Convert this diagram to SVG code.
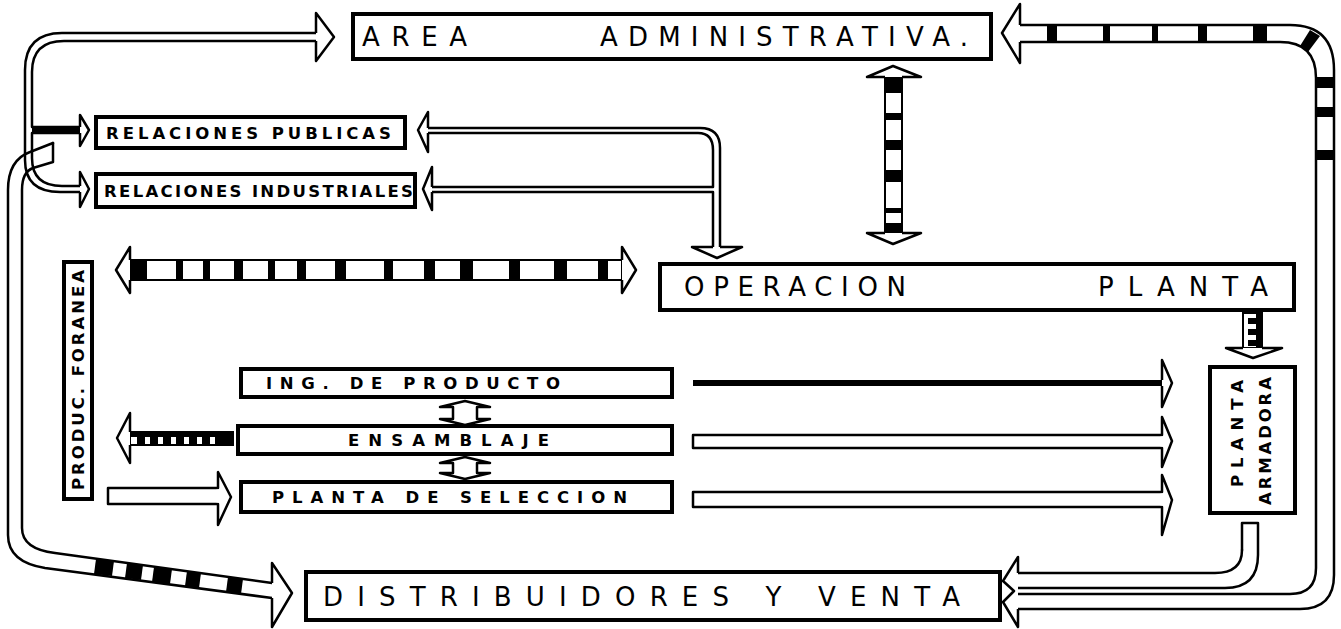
<svg xmlns="http://www.w3.org/2000/svg" width="1341" height="629" viewBox="0 0 1341 629">
<style>
.box{fill:#fff;stroke:#000;stroke-width:4}
.ln{fill:none;stroke:#000;stroke-width:2.5;stroke-linecap:round;stroke-linejoin:round}
.hd{fill:#fff;stroke:#000;stroke-width:2.5;stroke-linejoin:round}
.blk{fill:#000}
.t1{font-family:"DejaVu Sans","Liberation Sans",sans-serif;font-size:26px;fill:#000}
.t2{font-family:"DejaVu Sans","Liberation Sans",sans-serif;font-size:16.5px;font-weight:bold;fill:#000}
</style>
<rect width="1341" height="629" fill="#fff"/>
<g id="connectors">
  <!-- top-left loop to AREA + RELACIONES branches -->
  <path class="ln" d="M316 33 L62 33 Q25 33 25 70 L25 160 Q25 192 60 192 L80 192"/>
  <path class="ln" d="M316 41 L64 41 Q32 41 32 72 L32 127 L80 127"/>
  <path class="ln" d="M80 133 L32 133 L32 158 Q32 186 62 186 L80 186"/>
  <rect x="32" y="127" width="48" height="6" fill="#000"/>
  <path class="hd" d="M316 33 L316 13 L334 37 L316 61 L316 41"/>
  <path class="hd" d="M80 127 L80 115 L89 130 L80 146 L80 133"/>
  <path class="hd" d="M80 186 L80 172 L89 189 L80 207 L80 192"/>
  <!-- big left loop to DISTRIBUIDORES -->
  <path class="ln" d="M53 143 L30 152 Q8 160 8 190 L8 535 Q8 562 45 568 L272 598"/>
  <path class="ln" d="M53 143 L53 162 L33 168 Q22 172 22 190 L22 528 Q22 549 55 553 L272 583"/>
  <g class="blk">
    <polygon points="96,559 114,561 112,576 94,574"/>
    <polygon points="127,563 143,565 141,580 125,578"/>
    <polygon points="154,567 172,569 170,584 152,582"/>
    <polygon points="187,571 201,573 199,588 185,586"/>
    <polygon points="228,577 243,579 241,594 226,592"/>
  </g>
  <path class="hd" d="M272 583 L272 563 L292 593 L272 627 L272 598"/>
  <!-- vertical striped double arrow -->
  <rect x="885" y="77" width="17" height="156" fill="#fff" stroke="#000" stroke-width="2"/>
  <g class="blk">
    <rect x="885" y="77" width="17" height="16"/>
    <rect x="885" y="113" width="17" height="7"/>
    <rect x="885" y="140" width="17" height="10"/>
    <rect x="885" y="170" width="17" height="12"/>
    <rect x="885" y="208" width="17" height="5"/>
    <rect x="885" y="223" width="17" height="10"/>
  </g>
  <path class="hd" d="M885 77 L867 77 L893 66 L921 77 L902 77"/>
  <path class="hd" d="M885 233 L867 233 L893 244 L921 233 L902 233"/>
  <!-- horizontal striped double arrow -->
  <rect x="130" y="260" width="492" height="20" fill="#fff" stroke="#000" stroke-width="2"/>
  <g class="blk">
    <rect x="130" y="260" width="17" height="20"/>
    <rect x="176" y="260" width="7" height="20"/>
    <rect x="203" y="260" width="7" height="20"/>
    <rect x="234" y="260" width="9" height="20"/>
    <rect x="268" y="260" width="7" height="20"/>
    <rect x="297" y="260" width="9" height="20"/>
    <rect x="335" y="260" width="11" height="20"/>
    <rect x="384" y="260" width="9" height="20"/>
    <rect x="424" y="260" width="11" height="20"/>
    <rect x="460" y="260" width="13" height="20"/>
    <rect x="509" y="260" width="11" height="20"/>
    <rect x="554" y="260" width="13" height="20"/>
    <rect x="598" y="260" width="10" height="20"/>
  </g>
  <path class="hd" d="M130 260 L130 247 L116 270 L130 293 L130 280"/>
  <path class="hd" d="M622 260 L622 247 L636 270 L622 293 L622 280"/>
  <!-- RELACIONES <- OPERACION connector -->
  <path class="ln" d="M428 128 L700 128 Q720 128 720 148 L720 247"/>
  <path class="ln" d="M428 133 L698 133 Q713 133 713 150 L713 187 M432 187 L713 187 M432 192 L713 192 L713 247"/>
  <path class="hd" d="M428 128 L428 112 L418 130 L428 152 L428 133"/>
  <path class="hd" d="M432 187 L432 167 L423 189 L432 210 L432 192"/>
  <path class="hd" d="M713 247 L692 247 L717 258 L742 247 L720 247"/>
  <!-- OPERACION -> PLANTA ARMADORA -->
  <rect x="1243" y="313" width="19" height="35" fill="#fff" stroke="#000" stroke-width="2"/>
  <g class="blk">
    <rect x="1256" y="313" width="6" height="35"/>
    <rect x="1248" y="318" width="10" height="6"/>
    <rect x="1248" y="329" width="10" height="6"/>
    <rect x="1248" y="340" width="10" height="6"/>
  </g>
  <path class="hd" d="M1243 348 L1226 348 L1253 358 L1282 348 L1262 348"/>
  <!-- ING <-> ENSAMBLAJE <-> PLANTA DE SELECCION -->
  <path class="hd" d="M465 401 L490 407 L477 407 L477 419 L490 419 L465 425 L440 419 L453 419 L453 407 L440 407 Z"/>
  <path class="hd" d="M465 457 L490 463 L477 463 L477 473 L490 473 L465 479 L440 473 L453 473 L453 463 L440 463 Z"/>
  <!-- ENSAMBLAJE -> PRODUC -->
  <rect x="130" y="432" width="103" height="13" fill="#fff" stroke="#000" stroke-width="2"/>
  <g class="blk">
    <rect x="130" y="432" width="103" height="5"/>
    <rect x="137" y="437" width="8" height="8"/>
    <rect x="150" y="437" width="8" height="8"/>
    <rect x="163" y="437" width="8" height="8"/>
    <rect x="176" y="437" width="8" height="8"/>
    <rect x="189" y="437" width="8" height="8"/>
    <rect x="202" y="437" width="8" height="8"/>
    <rect x="215" y="437" width="18" height="8"/>
  </g>
  <path class="hd" d="M130 432 L130 413 L117 438 L130 463 L130 445"/>
  <!-- PRODUC -> PLANTA DE SELECCION -->
  <path class="hd" d="M218 488 L108 488 L108 504 L218 504 L218 525 L231 497 L218 472 Z"/>
  <line x1="218" y1="489.5" x2="218" y2="502.5" stroke="#fff" stroke-width="3"/>
  <!-- arrows to PLANTA ARMADORA -->
  <rect x="693" y="380" width="469" height="6" fill="#000"/>
  <path class="hd" d="M1162 380 L1162 360 L1172 383 L1162 407 L1162 386"/>
  <path class="hd" d="M1162 435 L693 435 L693 448 L1162 448 L1162 467 L1172 441 L1162 417 Z"/>
  <line x1="1162" y1="436.5" x2="1162" y2="446.5" stroke="#fff" stroke-width="3"/>
  <path class="hd" d="M1162 492 L693 492 L693 507 L1162 507 L1162 535 L1172 500 L1162 475 Z"/>
  <line x1="1162" y1="493.5" x2="1162" y2="505.5" stroke="#fff" stroke-width="3"/>
  <!-- right loop: DISTRIBUIDORES -> AREA (striped) -->
  <path class="ln" d="M1020 25 L1290 25 Q1334 25 1334 70 L1334 575 Q1334 609 1300 609 L1018 609"/>
  <path class="ln" d="M1020 42 L1280 42 Q1316 42 1316 78 L1316 568 Q1316 594 1290 594 L1018 594"/>
  <g class="blk">
    <rect x="1047" y="25" width="10" height="17"/>
    <rect x="1103" y="25" width="7" height="17"/>
    <rect x="1152" y="25" width="6" height="17"/>
    <rect x="1198" y="25" width="9" height="17"/>
    <rect x="1253" y="25" width="14" height="17"/>
    <polygon points="1310,30 1320,36 1308,52 1300,46"/>
    <rect x="1316" y="77" width="18" height="11"/>
    <rect x="1316" y="107" width="18" height="10"/>
    <rect x="1316" y="150" width="18" height="10"/>
  </g>
  <path class="hd" d="M1020 25 L1020 4 L1002 33 L1020 63 L1020 42"/>
  <!-- PLANTA ARMADORA -> DISTRIBUIDORES -->
  <path class="ln" d="M1242 550 L1242 523 L1258 523 L1258 555 Q1258 588 1225 588 L1016 588"/>
  <path class="ln" d="M1242 550 Q1242 573 1215 573 L1018 573"/>
  <path class="hd" d="M1018 573 L1018 557 L1003 581 L1014 591 L1003 602 L1018 627 L1018 609"/>
</g>
<g id="area-administrativa">
  <rect class="box" x="353" y="14" width="638" height="45"/>
  <text class="t1" x="362" y="46" textLength="105" lengthAdjust="spacing">AREA</text>
  <text class="t1" x="600" y="46" textLength="368" lengthAdjust="spacing">ADMINISTRATIVA.</text>
</g>
<g id="relaciones-publicas">
  <rect class="box" x="96" y="117" width="309" height="31"/>
  <text class="t2" x="106" y="138.5" textLength="285" lengthAdjust="spacing">RELACIONES PUBLICAS</text>
</g>
<g id="relaciones-industriales">
  <rect class="box" x="96" y="174" width="319" height="33"/>
  <text class="t2" x="104" y="196.5" textLength="309" lengthAdjust="spacing">RELACIONES INDUSTRIALES</text>
</g>
<g id="operacion-planta">
  <rect class="box" x="660" y="264" width="634" height="46"/>
  <text class="t1" x="684" y="296" font-size="25" textLength="222" lengthAdjust="spacing">OPERACION</text>
  <text class="t1" x="1098" y="296" font-size="25" textLength="170" lengthAdjust="spacing">PLANTA</text>
</g>
<g id="produc-foranea">
  <rect class="box" x="64" y="262" width="28" height="237"/>
  <text class="t2" transform="translate(84,490) rotate(-90)" x="0" y="0" textLength="220" lengthAdjust="spacing">PRODUC.  FORANEA</text>
</g>
<g id="ing-producto">
  <rect class="box" x="241" y="369" width="431" height="28"/>
  <text class="t2" x="266" y="389" textLength="294" lengthAdjust="spacing">ING.   DE   PRODUCTO</text>
</g>
<g id="ensamblaje">
  <rect class="box" x="238" y="426" width="434" height="28"/>
  <text class="t2" x="348" y="446" textLength="201" lengthAdjust="spacing">ENSAMBLAJE</text>
</g>
<g id="planta-seleccion">
  <rect class="box" x="241" y="482" width="431" height="30"/>
  <text class="t2" x="272" y="503" textLength="355" lengthAdjust="spacing">PLANTA  DE  SELECCION</text>
</g>
<g id="planta-armadora">
  <rect class="box" x="1210" y="367" width="85" height="146"/>
  <text class="t2" transform="translate(1243,487) rotate(-90)" x="0" y="0" textLength="107" lengthAdjust="spacing">PLANTA</text>
  <text class="t2" transform="translate(1271,505) rotate(-90)" x="0" y="0" textLength="128" lengthAdjust="spacing">ARMADORA</text>
</g>
<g id="distribuidores-venta">
  <rect class="box" x="306" y="572" width="694" height="48"/>
  <text class="t1" x="323" y="606" font-size="27" textLength="637" lengthAdjust="spacing">DISTRIBUIDORES  Y  VENTA</text>
</g>
</svg>
